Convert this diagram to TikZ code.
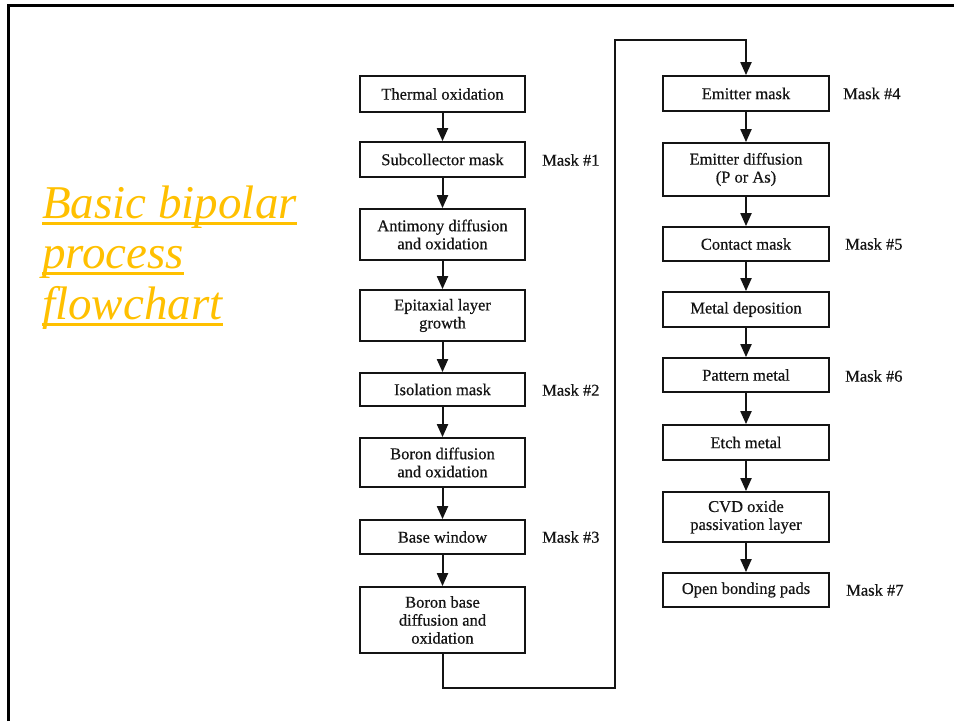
\documentclass[tikz,border=0pt]{standalone}
\usepackage{fontspec}
\setmainfont{Liberation Serif}
\newfontfamily\boxfont[FakeBold=0.5]{Liberation Serif}
\usetikzlibrary{arrows.meta}
\definecolor{titlegold}{RGB}{255,192,0}
\definecolor{ink}{RGB}{20,20,20}

\begin{document}
\begin{tikzpicture}[x=1pt,y=-1pt,
  stepbox/.style={draw=ink, line width=1.8pt, align=center, inner sep=0pt,
    text=ink, font=\boxfont\fontsize{16.5}{18}\selectfont},
  leftbox/.style={stepbox, minimum width=165pt},
  rightbox/.style={stepbox, minimum width=166pt},
  masklabel/.style={anchor=west, inner sep=0pt, text=ink,
    font=\boxfont\fontsize{16.5}{18}\selectfont},
  flow/.style={draw=ink, line width=2pt, -{Triangle[length=13pt,width=11pt]}},
  titletext/.style={anchor=base west, inner sep=0pt, text=titlegold,
    font=\fontsize{47}{50}\selectfont\itshape},
  titleline/.style={draw=titlegold, line width=2.8pt}]

\useasboundingbox (0,0) rectangle (954,721);
\fill[white] (0,0) rectangle (954,721);

% slide frame
\draw[line width=3pt, line join=miter] (8,721) -- (8,5) -- (954,5);

% title
\node[titletext] (t1) at (42,218) {Basic bipolar};
\node[titletext] (t2) at (42,268) {process};
\node[titletext] (t3) at (42,319) {flowchart};
\foreach \t in {t1,t2,t3}
  \draw[titleline] ([yshift=-5.5pt]\t.base west) -- ([yshift=-5.5pt]\t.base east);

% left column
\node[leftbox, minimum height=36pt] (therm) at (442.5,94) {Thermal oxidation};
\node[leftbox, minimum height=35pt] (subc)  at (442.5,159.5) {Subcollector mask};
\node[leftbox, minimum height=51pt] (antim) at (442.5,234.5) {Antimony diffusion\\and oxidation};
\node[leftbox, minimum height=51pt] (epi)   at (442.5,315.5) {Epitaxial layer\\growth};
\node[leftbox, minimum height=33pt] (iso)   at (442.5,389.5) {Isolation mask};
\node[leftbox, minimum height=49pt] (boron) at (442.5,462.5) {Boron diffusion\\and oxidation};
\node[leftbox, minimum height=34pt] (basew) at (442.5,537) {Base window};
\node[leftbox, minimum height=66pt] (bbase) at (442.5,620) {Boron base\\diffusion and\\oxidation};

% right column
\node[rightbox, minimum height=35pt] (emask)   at (746,93.5) {Emitter mask};
\node[rightbox, minimum height=53pt] (ediff)   at (746,169.5) {Emitter diffusion\\(P or As)};
\node[rightbox, minimum height=34pt] (contact) at (746,244) {Contact mask};
\node[rightbox, minimum height=35pt] (metdep)  at (746,309.5) {Metal deposition};
\node[rightbox, minimum height=34pt] (patt)    at (746,375) {Pattern metal};
\node[rightbox, minimum height=35pt] (etch)    at (746,442.5) {Etch metal};
\node[rightbox, minimum height=50pt] (cvd)     at (746,517) {CVD oxide\\passivation layer};
\node[rightbox, minimum height=34pt] (pads)    at (746,590) {Open bonding pads};

% mask labels
\node[masklabel] (m1) at (542,160) {Mask \#1};
\node[masklabel] (m2) at (542,390) {Mask \#2};
\node[masklabel] (m3) at (542,537) {Mask \#3};
\node[masklabel] (m4) at (843,93.5) {Mask \#4};
\node[masklabel] (m5) at (845,244) {Mask \#5};
\node[masklabel] (m6) at (845,376) {Mask \#6};
\node[masklabel] (m7) at (846,590) {Mask \#7};

% connectors within columns
\draw[flow] (therm) -- (subc);
\draw[flow] (subc) -- (antim);
\draw[flow] (antim) -- (epi);
\draw[flow] (epi) -- (iso);
\draw[flow] (iso) -- (boron);
\draw[flow] (boron) -- (basew);
\draw[flow] (basew) -- (bbase);

\draw[flow] (emask) -- (ediff);
\draw[flow] (ediff) -- (contact);
\draw[flow] (contact) -- (metdep);
\draw[flow] (metdep) -- (patt);
\draw[flow] (patt) -- (etch);
\draw[flow] (etch) -- (cvd);
\draw[flow] (cvd) -- (pads);

% link from the bottom of the left column to the top of the right one
\coordinate (lowturn) at (615,688);
\coordinate (highturn) at (615,40);
\draw[flow, line join=miter] (bbase.south) |- (lowturn) -- (highturn) -| (emask.north);

\end{tikzpicture}
\end{document}
